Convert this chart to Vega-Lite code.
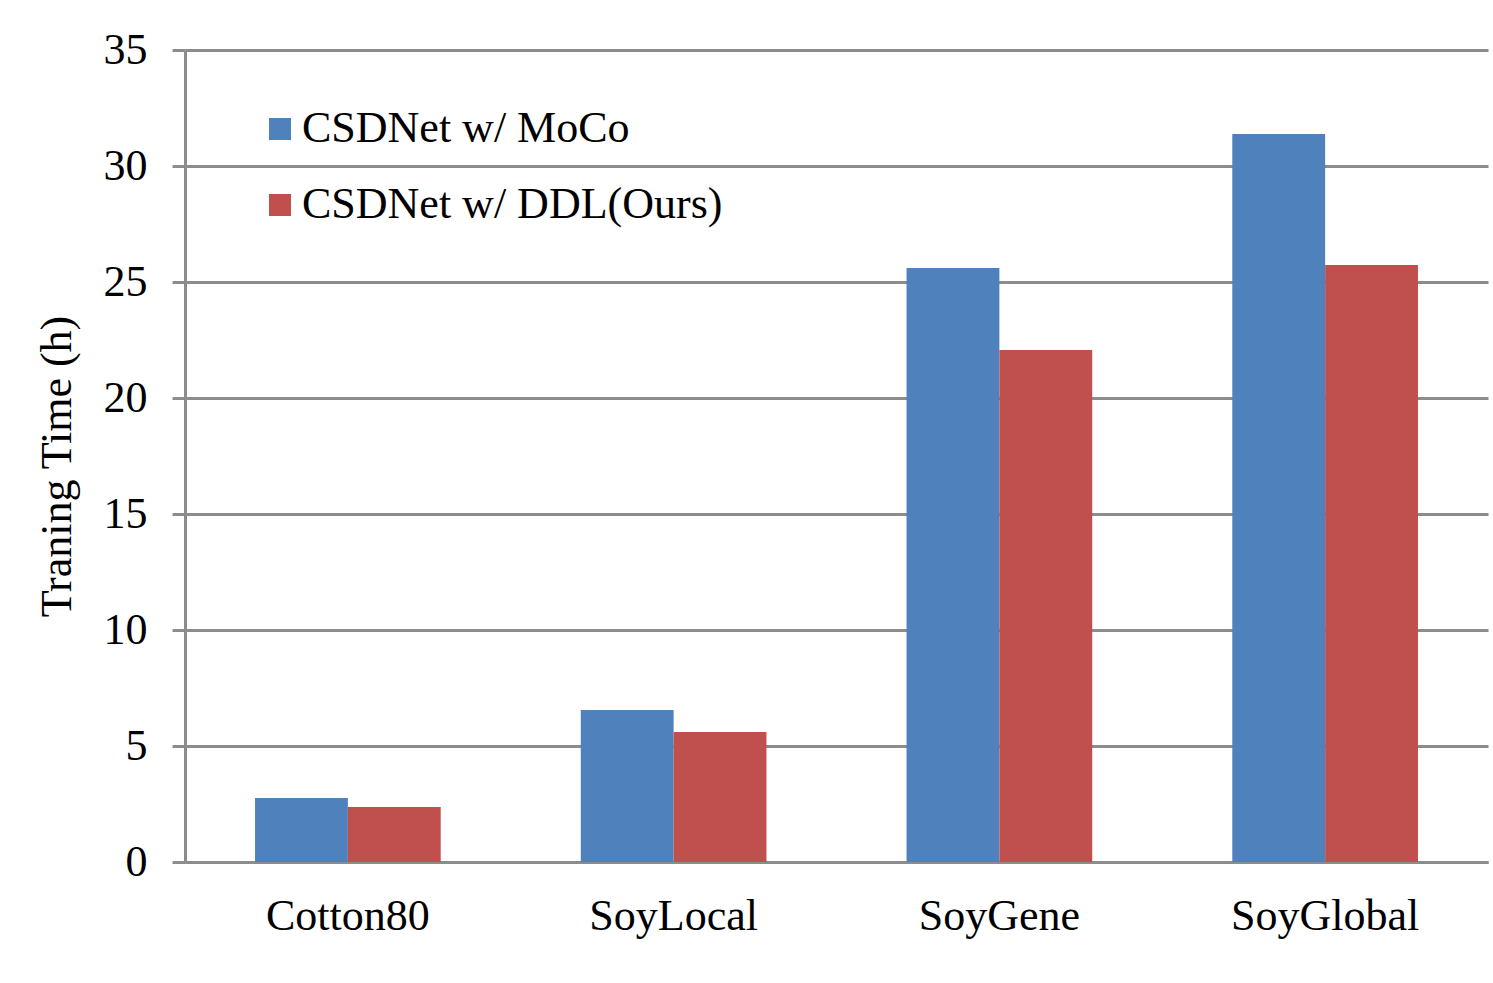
{
  "$schema": "https://vega.github.io/schema/vega-lite/v6.json",
  "autosize": {"type": "none"},
  "width": 1303,
  "height": 812,
  "padding": {"left": 185, "top": 50, "right": 5, "bottom": 121},
  "background": "white",
  "config": {
    "view": {"stroke": null},
    "font": "Liberation Serif"
  },
  "data": {
    "values": [
      {"dataset": "Cotton80", "method": "CSDNet w/ MoCo", "hours": 2.76},
      {"dataset": "Cotton80", "method": "CSDNet w/ DDL(Ours)", "hours": 2.37},
      {"dataset": "SoyLocal", "method": "CSDNet w/ MoCo", "hours": 6.55},
      {"dataset": "SoyLocal", "method": "CSDNet w/ DDL(Ours)", "hours": 5.6},
      {"dataset": "SoyGene", "method": "CSDNet w/ MoCo", "hours": 25.6},
      {"dataset": "SoyGene", "method": "CSDNet w/ DDL(Ours)", "hours": 22.07},
      {"dataset": "SoyGlobal", "method": "CSDNet w/ MoCo", "hours": 31.38},
      {"dataset": "SoyGlobal", "method": "CSDNet w/ DDL(Ours)", "hours": 25.73}
    ]
  },
  "mark": {"type": "bar"},
  "encoding": {
    "x": {
      "field": "dataset",
      "type": "nominal",
      "sort": ["Cotton80", "SoyLocal", "SoyGene", "SoyGlobal"],
      "scale": {"paddingInner": 0.43, "paddingOuter": 0.215},
      "axis": {
        "title": null,
        "labelAngle": 0,
        "labelFont": "Liberation Serif",
        "labelFontSize": 44,
        "labelColor": "black",
        "labelPadding": 32,
        "labelLimit": 0,
        "ticks": false,
        "domainColor": "#8c8c8c",
        "domainWidth": 3,
        "grid": false
      }
    },
    "xOffset": {
      "field": "method",
      "type": "nominal",
      "sort": ["CSDNet w/ MoCo", "CSDNet w/ DDL(Ours)"],
      "scale": {"paddingInner": 0, "paddingOuter": 0}
    },
    "y": {
      "field": "hours",
      "type": "quantitative",
      "scale": {"domain": [0, 35], "nice": false},
      "axis": {
        "title": "Traning Time (h)",
        "titleFont": "Liberation Serif",
        "titleFontSize": 44,
        "titleFontWeight": "normal",
        "titleColor": "black",
        "titlePadding": 24,
        "titleY": 416,
        "values": [0, 5, 10, 15, 20, 25, 30, 35],
        "labelFont": "Liberation Serif",
        "labelFontSize": 44,
        "labelColor": "black",
        "labelPadding": 25,
        "tickSize": 13,
        "tickColor": "#8c8c8c",
        "tickWidth": 3,
        "domainColor": "#8c8c8c",
        "domainWidth": 3,
        "grid": true,
        "gridColor": "#8c8c8c",
        "gridWidth": 3
      }
    },
    "color": {
      "field": "method",
      "type": "nominal",
      "scale": {
        "domain": ["CSDNet w/ MoCo", "CSDNet w/ DDL(Ours)"],
        "range": ["#4F81BD", "#C0504D"]
      },
      "legend": {
        "title": null,
        "orient": "none",
        "legendX": 73,
        "legendY": 57,
        "padding": 0,
        "symbolType": "square",
        "symbolSize": 484,
        "symbolStrokeWidth": 0,
        "symbolOpacity": 1,
        "labelFont": "Liberation Serif",
        "labelFontSize": 44,
        "labelColor": "black",
        "labelOffset": 0,
        "labelLimit": 0,
        "rowPadding": 32
      }
    }
  }
}
